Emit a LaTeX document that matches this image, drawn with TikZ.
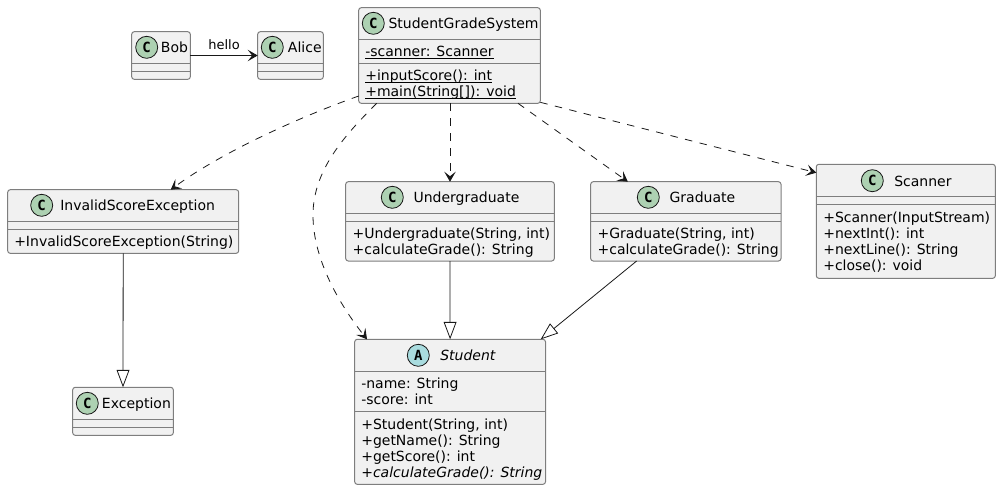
\documentclass[tikz,border=0pt]{standalone}
\usepackage{fontspec}
\setmainfont{DejaVu Sans}
\newfontfamily\iconfont{DejaVu Sans Mono}
\usetikzlibrary{arrows.meta}
\definecolor{boxfill}{HTML}{F1F1F1}
\definecolor{boxline}{HTML}{7E7E7E}
\definecolor{ink}{HTML}{181818}
\definecolor{iconC}{HTML}{ADD1B2}
\definecolor{iconA}{HTML}{A9DCDF}
\newcommand\ultext[1]{\setbox0\hbox{#1}\rlap{\usebox0}\rule[-1.9pt]{\wd0}{.6pt}}
\tikzset{
  classbox/.style={draw=boxline,fill=boxfill,line width=.75pt,rounded corners=1.9pt,inner sep=0pt,outer sep=0pt},
  sepline/.style={draw=boxline,line width=.75pt},
  icon/.style={circle,draw=ink,line width=.6pt,minimum size=16.5pt,inner sep=0pt,font=\iconfont\bfseries\fontsize{10.5pt}{12pt}\selectfont,text=black},
  title/.style={anchor=base west,inner sep=0pt,font=\fontsize{10.5pt}{12pt}\selectfont,text=black},
  member/.style={anchor=base west,inner sep=0pt,font=\fontsize{10.5pt}{12pt}\selectfont,text=black},
  dep/.style={draw=ink,line width=.6pt,dash pattern=on 5.6pt off 5.6pt,-{Stealth[length=7.5pt,width=8.6pt,inset=3.4pt]}},
  assoc/.style={draw=ink,line width=.7pt,-{Stealth[length=7.5pt,width=8.6pt,inset=3.4pt]}},
  ext/.style={draw=ink,line width=.6pt,-{Triangle[open,fill=white,length=13pt,width=9.6pt]}},
  edgelabel/.style={inner sep=0pt,font=\fontsize{9.75pt}{12pt}\selectfont,text=black}
}
% name x1 y1 x2 y2 sep1 sep2
\newcommand\umlbox[7]{%
  \node[classbox,minimum width={(#4-#2)*.75pt},minimum height={(#5-#3)*.75pt}] (#1) at ({(#2+#4)/2},{(#3+#5)/2}) {};
  \draw[sepline] (#1.west |- 0,#6) -- (#1.east |- 0,#6);
  \draw[sepline] (#1.west |- 0,#7) -- (#1.east |- 0,#7);
}
% name cx cy letter colour textx title
\newcommand\umlhead[7]{%
  \node[icon,fill=#5] (#1-icon) at (#2,#3) {#4};
  \node[title] (#1-title) at (#6,#3+5.3) {#7};
}
\begin{document}
\begin{tikzpicture}[x=.75pt,y=-.75pt]
\useasboundingbox (0,0) rectangle (1001,490);

\umlbox{bob}{131.7}{31.7}{190.3}{79.3}{63.3}{71.3}
\umlhead{bob}{146.7}{47.3}{C}{iconC}{160.7}{Bob}
\umlbox{alice}{257.7}{31.7}{323.3}{79.3}{63.3}{71.3}
\umlhead{alice}{272.3}{47.3}{C}{iconC}{287.7}{Alice}

\umlbox{sgs}{358.7}{7.7}{540.3}{103.3}{39.3}{63.3}
\umlhead{sgs}{373.3}{23.3}{C}{iconC}{388.3}{StudentGradeSystem}
\node[member] (sgs-m1) at (365,56.3) {\ultext{-scanner: Scanner}};
\node[member] (sgs-m2) at (365,80.3) {\ultext{+inputScore(): int}};
\node[member] (sgs-m3) at (365,96.6) {\ultext{+main(String[]): void}};

\umlbox{inv}{7.7}{189.7}{238.7}{253.3}{221.3}{229.3}
\umlhead{inv}{41.7}{205.3}{C}{iconC}{60}{InvalidScoreException}
\node[member] (inv-m1) at (14,246) {+InvalidScoreException(String)};

\umlbox{under}{345.7}{181.7}{554.3}{261}{213.3}{221.3}
\umlhead{under}{392.3}{197.3}{C}{iconC}{413.3}{Undergraduate}
\node[member] (under-m1) at (352.3,238) {+Undergraduate(String, int)};
\node[member] (under-m2) at (352.3,254.3) {+calculateGrade(): String};

\umlbox{grad}{590.7}{181.7}{781}{261}{213.3}{221.3}
\umlhead{grad}{648.3}{197.3}{C}{iconC}{669.3}{Graduate}
\node[member] (grad-m1) at (597.3,238) {+Graduate(String, int)};
\node[member] (grad-m2) at (597.3,254.3) {+calculateGrade(): String};

\umlbox{scan}{816.3}{164.3}{995.3}{278.3}{196.7}{204.7}
\umlhead{scan}{872.3}{180.7}{C}{iconC}{894}{Scanner}
\node[member] (scan-m1) at (823,222) {+Scanner(InputStream)};
\node[member] (scan-m2) at (823,238.3) {+nextInt(): int};
\node[member] (scan-m3) at (823,254.6) {+nextLine(): String};
\node[member] (scan-m4) at (823,270.9) {+close(): void};

\umlbox{exc}{72.7}{387.3}{173.3}{435.3}{419.3}{427.3}
\umlhead{exc}{87.3}{403.3}{C}{iconC}{101.7}{Exception}

\umlbox{student}{354.7}{339.3}{545.5}{484.3}{371.3}{411.3}
\umlhead{student}{418.3}{355.3}{A}{iconA}{440}{\itshape Student}
\node[member] (student-m1) at (361,388) {-name: String};
\node[member] (student-m2) at (361,404.3) {-score: int};
\node[member] (student-m3) at (361,429) {+Student(String, int)};
\node[member] (student-m4) at (361,445.3) {+getName(): String};
\node[member] (student-m5) at (361,461.6) {+getScore(): int};
\node[member] (student-m6) at (361,477.9) {\itshape +calculateGrade(): String};

% connectors
\draw[assoc] (bob.east) -- node[edgelabel,pos=.5,above=4.2pt] (hello) {hello} (alice.west);
\draw[dep] ([shift={(0,-7.3)}]sgs.south west) .. controls (305,115) and (225,150) .. ([shift={(47.5,0)}]inv.north);
\draw[dep] ([shift={(18,0)}]sgs.south west) .. controls (345,135) and (313,170) .. (313,215)
  .. controls (313,260) and (340,305) .. ([shift={(12.3,0)}]student.north west);
\draw[dep] (under.north |- sgs.south) -- (under.north);
\draw[dep] ([shift={(-22.3,0)}]sgs.south east) -- ([shift={(-58,0)}]grad.north);
\draw[dep] ([shift={(0,-1)}]sgs.south east) -- ([shift={(0,8.4)}]scan.north west);
\draw[ext] (inv.south) -- (exc.north);
\draw[ext] (under.south) -- (student.north);
\draw[ext] ([shift={(-49.2,0)}]grad.south) -- ([shift={(-4.8,0)}]student.north east);
\end{tikzpicture}
\end{document}
